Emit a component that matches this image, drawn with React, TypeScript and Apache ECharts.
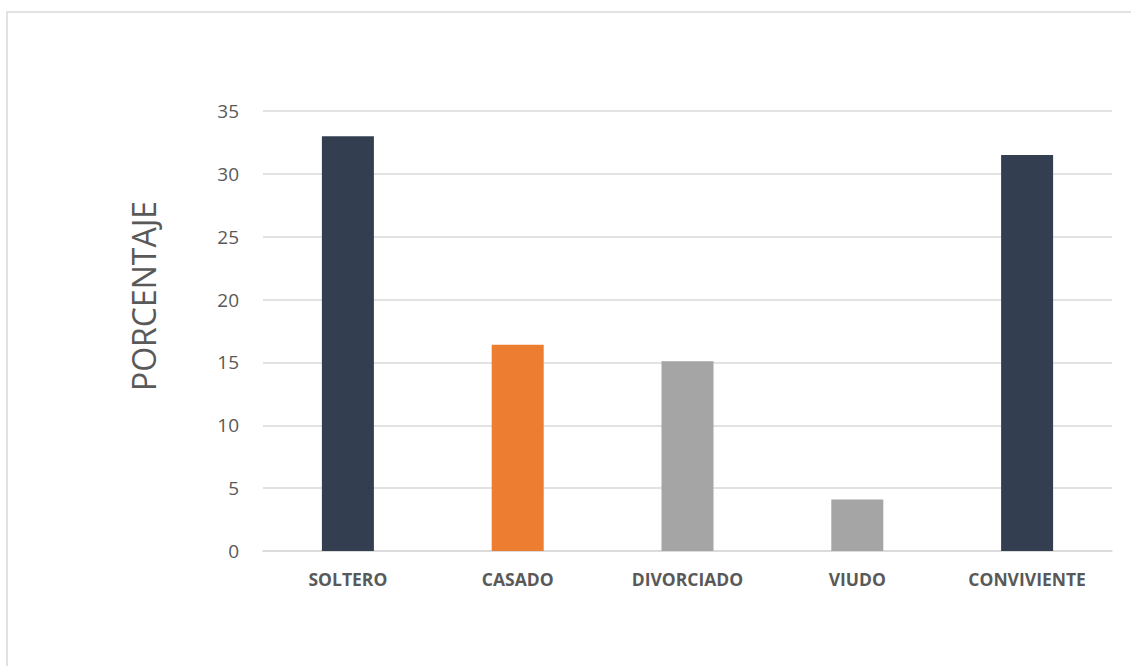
import React, { useEffect, useRef } from "react";
import * as echarts from "echarts";

const categories = ["SOLTERO", "CASADO", "DIVORCIADO", "VIUDO", "CONVIVIENTE"];
const values = [33, 16.4, 15.1, 4.1, 31.5];
const barColors = ["#333f50", "#ed7d31", "#a5a5a5", "#a5a5a5", "#333f50"];
const yTitle = "PORCENTAJE";

export default function App() {
  const ref = useRef<HTMLDivElement>(null);
  useEffect(() => {
    if (!ref.current) return;
    const chart = echarts.init(ref.current, null, { renderer: "svg" });
    chart.setOption({
      animation: false,
      backgroundColor: "#ffffff",
      textStyle: { fontFamily: "'Open Sans', sans-serif" },
      graphic: [
        {
          type: "rect",
          shape: { x: 7, y: 12, width: 1200, height: 700 },
          style: { fill: "none", stroke: "#d9d9d9", lineWidth: 1.5 },
          silent: true,
        },
        {
          type: "text",
          x: 143,
          y: 296,
          rotation: Math.PI / 2,
          style: {
            text: yTitle,
            fill: "#595959",
            fontSize: 32,
            fontFamily: "'Open Sans', sans-serif",
            align: "center",
            verticalAlign: "middle",
          },
        },
      ],
      grid: { left: 263, right: 19, top: 111, bottom: 115, containLabel: false },
      xAxis: {
        type: "category",
        data: categories,
        axisLine: { show: true, lineStyle: { color: "#d9d9d9", width: 1.5 } },
        axisTick: { show: false },
        axisLabel: {
          color: "#595959",
          fontSize: 17.5,
          fontWeight: "bold",
          margin: 19,
          fontFamily: "'Open Sans', sans-serif",
        },
      },
      yAxis: {
        type: "value",
        min: 0,
        max: 35,
        interval: 5,
        axisLine: { show: false },
        axisTick: { show: false },
        splitLine: { lineStyle: { color: "#d9d9d9", width: 1.5 } },
        axisLabel: {
          color: "#595959",
          fontSize: 19,
          margin: 24,
          fontFamily: "'Open Sans', sans-serif",
        },
      },
      series: [
        {
          type: "bar",
          barWidth: 52,
          data: values.map((v, i) => ({ value: v, itemStyle: { color: barColors[i] } })),
        },
      ],
    });
    return () => chart.dispose();
  }, []);
  return (
    <div
      ref={ref}
      style={{ position: "fixed", left: 0, top: 0, width: 1131, height: 666 }}
    />
  );
}
